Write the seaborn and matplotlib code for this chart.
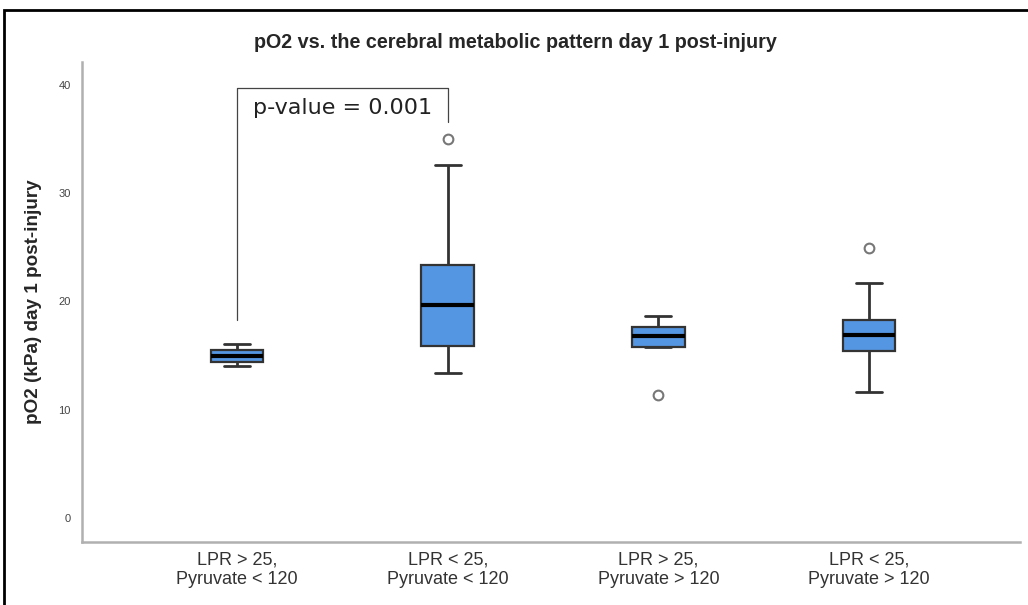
import numpy as np
import pandas as pd
import matplotlib
matplotlib.use("Agg")
import matplotlib.pyplot as plt
import seaborn as sns
from matplotlib.patches import Rectangle

# groups on the x axis
groups = ["LPR > 25,\nPyruvate < 120", "LPR < 25,\nPyruvate < 120",
          "LPR > 25,\nPyruvate > 120", "LPR < 25,\nPyruvate > 120"]

po2_g1 = [14.04, 14.44, 14.97, 15.5, 16.05]
po2_g2 = [13.37, 14.5, 15.92, 18.0, 19.65, 21.0, 23.37, 32.6, 35.0]
po2_g3 = [11.36, 15.83, 15.83, 16.3, 16.81, 17.2, 17.67, 18.2, 18.66]
po2_g4 = [11.67, 14.0, 15.46, 16.2, 16.93, 17.6, 18.29, 21.68, 24.9]

yticks = [0, 10, 20, 30, 40]
pval_text = "p-value = 0.001"

df = pd.concat([
    pd.DataFrame({"group": g, "po2": v})
    for g, v in zip(groups, [po2_g1, po2_g2, po2_g3, po2_g4])
])

sns.set_theme(style="white")
plt.rcParams["font.family"] = ["Liberation Sans", "DejaVu Sans"]

fig = plt.figure(figsize=(10.28, 6.05), dpi=100)
ax = fig.add_axes([0.0798, 0.1041, 0.9122, 0.7934])

sns.boxplot(data=df, x="group", y="po2", order=groups, ax=ax, width=0.25,
            color="#5596e2", saturation=1, linecolor="#333333", linewidth=1.6,
            whis=1.5,
            medianprops=dict(color="black", linewidth=3),
            whiskerprops=dict(color="#333333", linewidth=2),
            capprops=dict(color="#333333", linewidth=2),
            flierprops=dict(marker="o", markerfacecolor="white",
                            markeredgecolor="#777777", markersize=7,
                            markeredgewidth=1.5))

ax.set_xlim(-0.736, 3.716)
ax.set_ylim(-2.2, 42.1)
ax.set_yticks(yticks)
ax.tick_params(axis="y", labelsize=8, colors="#444444", length=0, pad=8)
ax.tick_params(axis="x", labelsize=13, colors="#333333", length=0, pad=7)
for lab in ax.get_xticklabels():
    lab.set_linespacing(1.15)
ax.set_xlabel("")
ax.set_ylabel("pO2 (kPa) day 1 post-injury", fontsize=13.6, fontweight="bold",
              labelpad=12)
for s in ["top", "right"]:
    ax.spines[s].set_visible(False)
for s in ["left", "bottom"]:
    ax.spines[s].set_color("#b0b0b0")
    ax.spines[s].set_linewidth(1.8)

# significance bracket between first two groups
ax.plot([0, 0, 1, 1], [18.3, 39.7, 39.7, 36.6], color="#444444", linewidth=0.9)
ax.text(0.5, 37.9, pval_text, ha="center", va="center", fontsize=16,
        family="DejaVu Sans", color="#222222")

fig.text(0.501, 1 - 42 / 605, "pO2 vs. the cerebral metabolic pattern day 1 post-injury",
         ha="center", va="center", fontsize=14.2, fontweight="bold")

# outer frame
top = 1 - 10 / 605
fig.patches.append(Rectangle((4 / 1028, -0.2), 1.2, top + 0.2,
                             transform=fig.transFigure, fill=False,
                             edgecolor="black", linewidth=2))

fig.savefig("out.png", dpi=100)
